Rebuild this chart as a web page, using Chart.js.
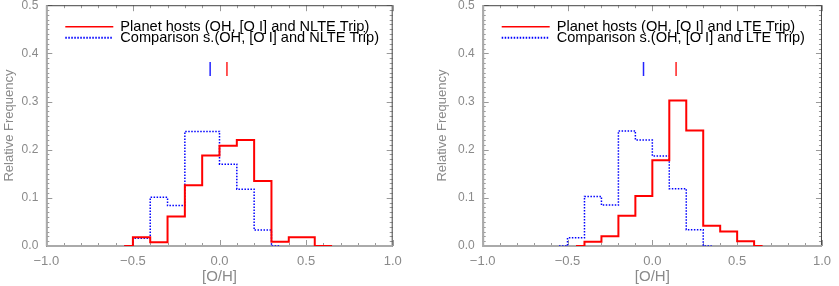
<!DOCTYPE html>
<html>
<head>
<meta charset="utf-8">
<script src="https://cdn.jsdelivr.net/npm/chart.js@4"></script>
<style>
  body { margin: 0; background: #fff; }
  #wrap { position: relative; width: 839px; height: 286px; overflow: hidden; }
  canvas { position: absolute; top: -10px; }
</style>
</head>
<body>
<div id="wrap">
  <canvas id="left" width="420" height="296" style="left:0"></canvas>
  <canvas id="right" width="419" height="296" style="left:420px"></canvas>
</div>
<script>
// bin edges and relative frequencies
const leftHostEdges = [-0.55, -0.5, -0.4, -0.3, -0.2, -0.1, 0.0, 0.1, 0.2, 0.3, 0.4, 0.55, 0.65];
const leftHostFreq = [0, 0.018, 0.008, 0.061, 0.126, 0.188, 0.208, 0.220, 0.135, 0.009, 0.018, 0];
const leftCompEdges = [-0.55, -0.5, -0.4, -0.3, -0.2, -0.1, 0.0, 0.1, 0.2, 0.3, 0.35];
const leftCompFreq = [0, 0.016, 0.101, 0.084, 0.238, 0.238, 0.170, 0.118, 0.033, 0];
const leftMeans = [-0.054, 0.043]; // comparison, hosts

const rightHostEdges = [-0.45, -0.4, -0.3, -0.2, -0.1, 0.0, 0.1, 0.2, 0.3, 0.4, 0.5, 0.6, 0.65];
const rightHostFreq = [0, 0.009, 0.020, 0.063, 0.104, 0.178, 0.302, 0.240, 0.042, 0.030, 0.010, 0];
const rightCompEdges = [-0.55, -0.5, -0.4, -0.3, -0.2, -0.1, 0.0, 0.1, 0.2, 0.3, 0.35];
const rightCompFreq = [0, 0.017, 0.103, 0.085, 0.239, 0.220, 0.187, 0.119, 0.034, 0];
const rightMeans = [-0.052, 0.140];

const meanMarkerRange = [0.353, 0.382];
const xTickValues = [-1.0, -0.5, 0.0, 0.5, 1.0];
const yTickValues = [0.0, 0.1, 0.2, 0.3, 0.4, 0.5];

const labelGray = '#8a8a8a';
const fontFamily = '"Liberation Sans", Arial, sans-serif';

function stepPoints(edges, freq) {
    const pts = freq.map((f, i) => ({ x: edges[i], y: f }));
    pts.push({ x: edges[edges.length - 1], y: freq[freq.length - 1] });
    return pts;
}

function meanMarker(x, color) {
    return {
        data: [{ x: x, y: meanMarkerRange[0] }, { x: x, y: meanMarkerRange[1] }],
        borderColor: color,
        borderWidth: 1.5,
        pointRadius: 0
    };
}

// box, inward ticks on all four sides
const frameTicks = {
    id: 'frameTicks',
    beforeDatasetsDraw(chart) {
        const { ctx, chartArea: a, scales } = chart;
        const x = scales.x, y = scales.y;
        ctx.save();
        ctx.strokeStyle = '#999';
        ctx.lineWidth = 1;
        ctx.beginPath();
        for (let i = 0; i <= 50; i++) {
            const py = Math.round(y.getPixelForValue(i / 100)) + 0.5;
            const len = i % 10 === 0 ? 6 : 3;
            ctx.moveTo(a.left, py); ctx.lineTo(a.left + len, py);
            ctx.moveTo(a.right, py); ctx.lineTo(a.right - len, py);
        }
        for (let i = -10; i <= 10; i++) {
            const px = Math.round(x.getPixelForValue(i / 10)) + 0.5;
            const len = i % 5 === 0 ? 6 : 3;
            ctx.moveTo(px, a.bottom); ctx.lineTo(px, a.bottom - len);
            ctx.moveTo(px, a.top); ctx.lineTo(px, a.top + len);
        }
        ctx.stroke();
        ctx.strokeStyle = '#444';
        ctx.strokeRect(a.left + 0.5, a.top + 0.5, a.right - a.left - 1, a.bottom - a.top);
        ctx.strokeStyle = '#aaa';
        ctx.lineWidth = 2;
        ctx.beginPath();
        ctx.moveTo(a.left, a.bottom); ctx.lineTo(a.right, a.bottom);
        ctx.moveTo(a.left + 0.5, a.top); ctx.lineTo(a.left + 0.5, a.bottom);
        ctx.stroke();
        ctx.restore();
    }
};

const boxLegend = {
    id: 'boxLegend',
    afterDatasetsDraw(chart) {
        const { ctx, chartArea: a } = chart;
        ctx.save();
        ctx.font = '14.6px ' + fontFamily;
        ctx.textBaseline = 'middle';
        ctx.fillStyle = '#000';
        let row = 0;
        chart.data.datasets.forEach(ds => {
            if (!ds.label) return;
            const y = a.top + 21.5 + row * 11;
            ctx.strokeStyle = ds.borderColor;
            ctx.lineWidth = ds.legendWidth;
            ctx.setLineDash(ds.borderDash || []);
            ctx.beginPath();
            ctx.moveTo(a.left + 19, y); ctx.lineTo(a.left + 67, y);
            ctx.stroke();
            ctx.setLineDash([]);
            ctx.fillText(ds.label, a.left + 74, y + 0.5);
            row++;
        });
        ctx.restore();
    }
};

function makeChart(id, hostEdges, hostFreq, compEdges, compFreq, means, trip, axisWidth, rightPad, titlePad) {
    return new Chart(document.getElementById(id), {
        type: 'line',
        data: {
            datasets: [
                {
                    label: 'Planet hosts (OH, [O I] and ' + trip + ' Trip)',
                    data: stepPoints(hostEdges, hostFreq),
                    stepped: 'before',
                    borderColor: '#ff0000',
                    borderWidth: 2,
                    legendWidth: 1.5,
                    pointRadius: 0
                },
                {
                    label: 'Comparison s.(OH, [O I] and ' + trip + ' Trip)',
                    data: stepPoints(compEdges, compFreq),
                    stepped: 'before',
                    borderColor: '#0000ff',
                    borderWidth: 1.5,
                    legendWidth: 2,
                    borderDash: [1.5, 1.5],
                    pointRadius: 0
                },
                meanMarker(means[0], '#2323ff'),
                meanMarker(means[1], '#ff2020')
            ]
        },
        options: {
            responsive: false,
            animation: false,
            layout: { padding: { top: 11, right: rightPad, left: 0, bottom: 0 } },
            plugins: { legend: { display: false }, tooltip: { enabled: false } },
            scales: {
                x: {
                    type: 'linear',
                    min: -1,
                    max: 1,
                    afterBuildTicks: s => { s.ticks = xTickValues.map(v => ({ value: v })); },
                    afterFit: s => { s.height = 40; },
                    grid: { display: false, drawTicks: false },
                    border: { display: false },
                    ticks: {
                        color: labelGray,
                        font: { family: fontFamily, size: 13 },
                        padding: 8,
                        maxRotation: 0,
                        callback: v => v.toFixed(1).replace('-', '\u2212')
                    },
                    title: {
                        display: true,
                        text: '[O/H]',
                        color: labelGray,
                        font: { family: fontFamily, size: 15 },
                        padding: 0
                    }
                },
                y: {
                    min: 0,
                    max: 0.5,
                    afterBuildTicks: s => { s.ticks = yTickValues.map(v => ({ value: v })); },
                    afterFit: s => { s.width = axisWidth; },
                    grid: { display: false, drawTicks: false },
                    border: { display: false },
                    ticks: {
                        color: labelGray,
                        font: { family: fontFamily, size: 12 },
                        padding: 8,
                        callback: v => v.toFixed(1)
                    },
                    title: {
                        display: true,
                        text: 'Relative Frequency',
                        color: labelGray,
                        font: { family: fontFamily, size: 13 },
                        padding: { top: titlePad, bottom: 0 }
                    }
                }
            }
        },
        plugins: [frameTicks, boxLegend]
    });
}

makeChart('left', leftHostEdges, leftHostFreq, leftCompEdges, leftCompFreq, leftMeans, 'NLTE', 46.3, 27.3, 2);
makeChart('right', rightHostEdges, rightHostFreq, rightCompEdges, rightCompFreq, rightMeans, 'LTE', 62.7, 9.7, 15);
</script>
</body>
</html>
